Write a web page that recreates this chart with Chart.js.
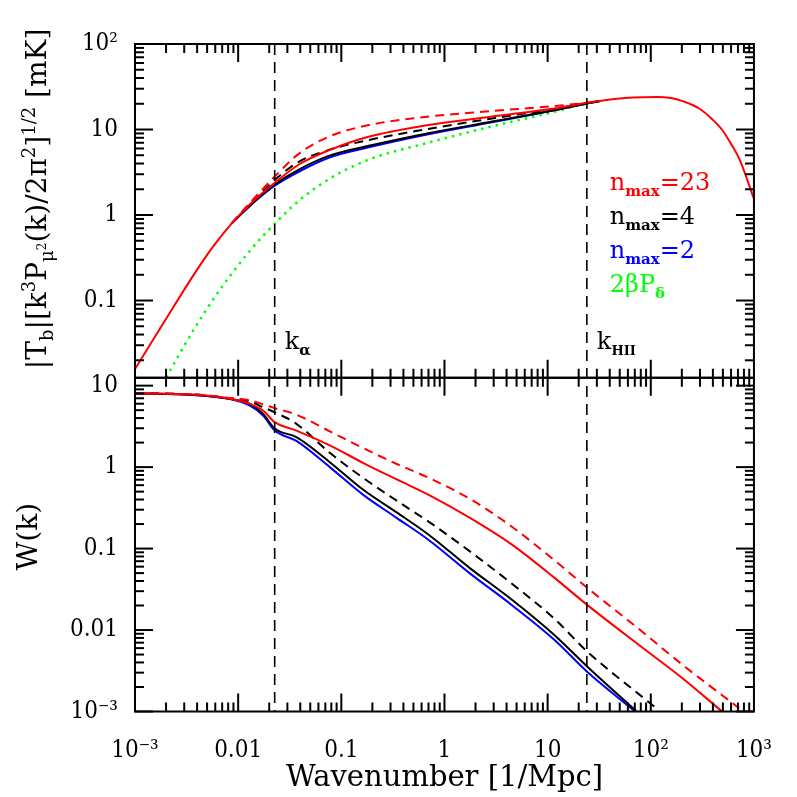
<!DOCTYPE html>
<html>
<head>
<meta charset="utf-8">
<script src="https://cdn.jsdelivr.net/npm/chart.js@4/dist/chart.umd.min.js"></script>
<style>
  html, body { margin: 0; padding: 0; background: #fff; }
  canvas { display: block; }
</style>
</head>
<body>
<canvas id="chart" width="797" height="797"></canvas>
<script>
// ---- data (k in 1/Mpc) ----
// top panel: |Tb| [k^3 P(k)/2pi^2]^1/2 [mK]
const kTopRed = [0.001, 0.0019, 0.00406, 0.0059, 0.00867, 0.0115, 0.0153, 0.0228, 0.0395, 0.0767, 0.18, 0.678, 2.81, 11.6, 24, 31.7, 66.7, 115, 157, 203, 295, 396, 495, 597, 724, 1000];
const topRed   = [0.0158, 0.0553, 0.236, 0.45, 0.8, 1.15, 1.6, 2.4, 3.95, 5.75, 8.17, 11.2, 14.1, 17.6, 20.5, 21.6, 23.6, 24.0, 23.3, 21.5, 17.6, 13.1, 9.8, 6.85, 4.5, 1.55];

const kTopVar = [0.00867, 0.0115, 0.0153, 0.0228, 0.0395, 0.0767, 0.18, 0.678, 2.81, 11.6, 24, 31.7];
const topRedDash   = [0.8, 1.18, 1.72, 2.85, 5.3, 8.3, 11.2, 14.1, 16.4, 18.8, 20.6, 21.6];
const topBlack     = [0.8, 1.12, 1.55, 2.3, 3.45, 4.95, 6.4, 9.0, 12.3, 16.8, 20.2, 21.4];
const topBlackDash = [0.8, 1.15, 1.62, 2.6, 4.25, 5.8, 7.5, 10.1, 13.4, 17.4, 20.4, 21.5];
const topBlue      = [0.8, 1.11, 1.52, 2.22, 3.25, 4.7, 6.15, 8.75, 12.1, 16.8, 20.2, 21.4];

const kGreen   = [0.002, 0.00366, 0.00594, 0.0127, 0.0228, 0.0395, 0.0767, 0.18, 0.678, 2.81, 11.6, 24, 31.7];
const topGreen = [0.0126, 0.0444, 0.11, 0.37, 0.8, 1.5, 2.65, 4.4, 6.95, 10.8, 16.1, 20.2, 21.4];

// bottom panel: W(k)
const kBot = [0.001, 0.0037, 0.0083, 0.013, 0.01745, 0.0226, 0.0367, 0.0773, 0.162, 0.341, 0.718, 1.75, 4.51, 11.6, 24];
const botRed       = [8.05, 7.76, 6.9, 5.97, 4.94, 3.56, 2.81, 1.85, 1.13, 0.71, 0.45, 0.24, 0.112, 0.044, 0.0205];
const botRedDash   = [8.05, 7.8, 7.06, 6.6, 5.9, 5.3, 4.4, 2.75, 1.72, 1.1, 0.73, 0.41, 0.185, 0.072, 0.0333];
const botBlack     = [8.05, 7.7, 6.9, 5.97, 4.5, 2.98, 2.33, 1.15, 0.53, 0.28, 0.145, 0.058, 0.0235, 0.0087, 0.0036];
const botBlackDash = [8.05, 7.8, 7.0, 6.42, 5.42, 4.71, 3.4, 1.5, 0.74, 0.39, 0.21, 0.093, 0.037, 0.0138, 0.0055];
const botBlue      = [8.05, 7.7, 6.85, 5.69, 4.3, 2.81, 2.1, 1.0, 0.46, 0.24, 0.125, 0.05, 0.0202, 0.0076, 0.0031];
// high-k tails
const kRedTail = [77.4, 200, 491],  redTail = [0.0065, 0.0026, 0.001];
const kRedDashTail = [77.4, 200, 718], redDashTail = [0.0102, 0.0038, 0.0011];
const kBlackTail = [73], blackTail = [0.001];
const kBlackDashTail = [108], blackDashTail = [0.00115];
const kBlueTail = [70.5], blueTail = [0.001];

// characteristic scales
const K_ALPHA = 0.0226;
const K_HII = 24;

// axes
const X_TICKS = [1e-3, 1e-2, 0.1, 1, 10, 100, 1000];
const X_LABELS = ['10⁻³', '0.01', '0.1', '1', '10', '10²', '10³'];
const YTOP_TICKS = [0.1, 1, 10, 100];
const YTOP_LABELS = ['0.1', '1', '10', '10²'];
const YBOT_TICKS = [1e-3, 0.01, 0.1, 1, 10];
const YBOT_LABELS = ['10⁻³', '0.01', '0.1', '1', '10'];

const RED = '#ff0000', BLACK = '#000000', BLUE = '#0000ff', GREEN = '#00ff00';
const FONT = "'DejaVu Serif', serif";
const TICK_FONT = "'DejaVu Serif Condensed', 'DejaVu Serif', serif";

function series(ks, vs) {
    return ks.map((k, i) => ({x: k, y: vs[i]}));
}

function line(data, axis, color, extra) {
    return Object.assign({
        data: data,
        yAxisID: axis,
        borderColor: color,
        borderWidth: 2,
        pointRadius: 0,
        fill: false,
        cubicInterpolationMode: 'monotone'
    }, extra || {});
}

const DASH = [9, 6];

// first dataset is drawn on top
const datasets = [
    line(series(kTopRed, topRed), 'yTop', RED),
    line(series(kTopVar, topRedDash), 'yTop', RED, {borderDash: DASH}),
    line(series(kTopVar, topBlack), 'yTop', BLACK),
    line(series(kTopVar, topBlackDash), 'yTop', BLACK, {borderDash: DASH}),
    line(series(kTopVar, topBlue), 'yTop', BLUE),
    line(series(kGreen, topGreen), 'yTop', GREEN, {borderDash: [2.5, 5], borderWidth: 2.5}),

    line(series(kBot.concat(kRedTail), botRed.concat(redTail)), 'yBot', RED),
    line(series(kBot.concat(kRedDashTail), botRedDash.concat(redDashTail)), 'yBot', RED, {borderDash: DASH}),
    line(series(kBot.concat(kBlackTail), botBlack.concat(blackTail)), 'yBot', BLACK),
    line(series(kBot.concat(kBlackDashTail), botBlackDash.concat(blackDashTail)), 'yBot', BLACK, {borderDash: DASH}),
    line(series(kBot.concat(kBlueTail), botBlue.concat(blueTail)), 'yBot', BLUE)
];

// text with sub/superscripts: [text, size, baseline shift, weight]
function richWidth(ctx, parts) {
    let w = 0;
    parts.forEach(p => {
        ctx.font = (p[3] || 'normal') + ' ' + p[1] + 'px ' + FONT;
        w += ctx.measureText(p[0]).width;
    });
    return w;
}

function drawRich(ctx, parts, x, y, align) {
    let cx = align === 'center' ? x - richWidth(ctx, parts) / 2 : x;
    ctx.textAlign = 'left';
    ctx.textBaseline = 'alphabetic';
    parts.forEach(p => {
        ctx.font = (p[3] || 'normal') + ' ' + p[1] + 'px ' + FONT;
        ctx.fillText(p[0], cx, y + p[2]);
        cx += ctx.measureText(p[0]).width;
    });
}

const TOP_TITLE = [['|T', 28, 0], ['b', 18, 7], ['|[k', 28, 0], ['3', 18, -11], ['P', 28, 0], ['μ', 18, 7], ['2', 12, 0],
    ['(k)/2π', 28, 0], ['2', 18, -11], [']', 28, 0], ['1/2', 18, -11], [' [mK]', 28, 0]];
const BOT_TITLE = [['W(k)', 28, 0]];
const X_TITLE = [['Wavenumber [1/Mpc]', 29, 0]];

const LEGEND = [
    {color: RED, parts: [['n', 24, 0], ['max', 15, 6, 'bold'], ['=23', 24, 0]]},
    {color: BLACK, parts: [['n', 24, 0], ['max', 15, 6, 'bold'], ['=4', 24, 0]]},
    {color: BLUE, parts: [['n', 24, 0], ['max', 15, 6, 'bold'], ['=2', 24, 0]]},
    {color: GREEN, parts: [['2βP', 24, 0], ['δ', 15, 6, 'bold']]}
];
const LEGEND_K = 40;      // left edge of the legend, in k
const LEGEND_V = 1.95;    // baseline of first entry, in top-panel units
const LEGEND_STEP = 34;

const MAJOR = 18, MINOR = 9;

const framePlugin = {
    id: 'frame',
    beforeDatasetDraw(chart, args) {
        const ds = chart.data.datasets[args.index];
        const ys = chart.scales[ds.yAxisID];
        const xs = chart.scales.x;
        chart.ctx.save();
        chart.ctx.beginPath();
        chart.ctx.rect(xs.left, ys.top, xs.right - xs.left, ys.bottom - ys.top);
        chart.ctx.clip();
    },
    afterDatasetDraw(chart) {
        chart.ctx.restore();
    },
    afterDatasetsDraw(chart) {
        const ctx = chart.ctx;
        const xs = chart.scales.x;
        const area = chart.chartArea;
        ctx.save();
        ctx.strokeStyle = '#000';

        // characteristic k lines across both panels
        ctx.lineWidth = 1.6;
        ctx.setLineDash([11, 7]);
        [K_ALPHA, K_HII].forEach(k => {
            const px = xs.getPixelForValue(k);
            ctx.beginPath();
            ctx.moveTo(px, area.top);
            ctx.lineTo(px, area.bottom);
            ctx.stroke();
        });
        ctx.setLineDash([]);

        ctx.lineWidth = 2;
        const seg = (x1, y1, x2, y2) => {
            ctx.beginPath();
            ctx.moveTo(x1, y1);
            ctx.lineTo(x2, y2);
            ctx.stroke();
        };
        [chart.scales.yTop, chart.scales.yBot].forEach(ys => {
            ctx.strokeRect(xs.left, ys.top, xs.right - xs.left, ys.bottom - ys.top);
            for (let e = -3; e < 3; e++) {
                for (let m = 1; m < 10; m++) {
                    const px = xs.getPixelForValue(m * Math.pow(10, e));
                    const len = m === 1 ? MAJOR : MINOR;
                    seg(px, ys.bottom, px, ys.bottom - len);
                    seg(px, ys.top, px, ys.top + len);
                }
            }
            const lo = Math.floor(Math.log10(ys.min)), hi = Math.ceil(Math.log10(ys.max));
            for (let e = lo; e <= hi; e++) {
                for (let m = 1; m < 10; m++) {
                    const v = m * Math.pow(10, e);
                    if (v < ys.min * 0.999 || v > ys.max * 1.001) continue;
                    const py = ys.getPixelForValue(v);
                    const len = m === 1 ? MAJOR : MINOR;
                    seg(xs.left, py, xs.left + len, py);
                    seg(xs.right, py, xs.right - len, py);
                }
            }
        });
        ctx.restore();
    },
    afterDraw(chart) {
        const ctx = chart.ctx;
        const xs = chart.scales.x;
        const yt = chart.scales.yTop;
        const yb = chart.scales.yBot;
        ctx.save();
        ctx.fillStyle = '#000';

        // axis titles
        ctx.save();
        ctx.translate(46, (yt.top + yt.bottom) / 2 - 12);
        ctx.rotate(-Math.PI / 2);
        drawRich(ctx, TOP_TITLE, 0, 0, 'center');
        ctx.restore();

        ctx.save();
        ctx.translate(37, (yb.top + yb.bottom) / 2 - 8);
        ctx.rotate(-Math.PI / 2);
        drawRich(ctx, BOT_TITLE, 0, 0, 'center');
        ctx.restore();

        drawRich(ctx, X_TITLE, (xs.left + xs.right) / 2, xs.bottom - 11, 'center');

        // k labels
        drawRich(ctx, [['k', 24, 0], ['α', 15, 6, 'bold']], xs.getPixelForValue(K_ALPHA) + 10, yt.bottom - 29, 'left');
        drawRich(ctx, [['k', 24, 0], ['HII', 13, 6, 'bold']], xs.getPixelForValue(K_HII) + 10, yt.bottom - 29, 'left');

        // legend
        const lx = xs.getPixelForValue(LEGEND_K);
        const ly = yt.getPixelForValue(LEGEND_V);
        LEGEND.forEach((item, i) => {
            ctx.fillStyle = item.color;
            drawRich(ctx, item.parts, lx, ly + i * LEGEND_STEP, 'left');
        });
        ctx.restore();
    }
};

function fixedTicks(values) {
    return function (scale) {
        scale.ticks = values.map(v => ({value: v}));
    };
}

new Chart(document.getElementById('chart'), {
    type: 'line',
    data: {datasets: datasets},
    options: {
        responsive: false,
        animation: false,
        devicePixelRatio: 1,
        layout: {padding: {top: 44, right: 42, bottom: 0, left: 0}},
        plugins: {legend: {display: false}, tooltip: {enabled: false}},
        scales: {
            x: {
                type: 'logarithmic',
                position: 'bottom',
                min: 1e-3,
                max: 1e3,
                grid: {display: false, drawTicks: false},
                border: {display: false},
                afterBuildTicks: fixedTicks(X_TICKS),
                afterFit: s => { s.height = 85.5; },
                ticks: {
                    autoSkip: false,
                    maxRotation: 0,
                    padding: 25,
                    color: '#000',
                    font: {family: TICK_FONT, size: 24},
                    callback: (v, i) => X_LABELS[i]
                }
            },
            yTop: {
                type: 'logarithmic',
                position: 'left',
                stack: 'panels',
                stackWeight: 1,
                weight: 1,
                min: 0.0125,
                max: 100,
                grid: {display: false, drawTicks: false},
                border: {display: false},
                afterBuildTicks: fixedTicks(YTOP_TICKS),
                afterFit: s => { s.width = 135; },
                ticks: {
                    autoSkip: false,
                    padding: 17,
                    color: '#000',
                    font: {family: TICK_FONT, size: 24},
                    callback: (v, i) => YTOP_LABELS[i]
                }
            },
            yBot: {
                type: 'logarithmic',
                position: 'left',
                stack: 'panels',
                stackWeight: 1,
                weight: 0,
                min: 1e-3,
                max: 12.5,
                grid: {display: false, drawTicks: false},
                border: {display: false},
                afterBuildTicks: fixedTicks(YBOT_TICKS),
                afterFit: s => { s.width = 135; },
                ticks: {
                    autoSkip: false,
                    padding: 17,
                    color: '#000',
                    font: {family: TICK_FONT, size: 24},
                    callback: (v, i) => YBOT_LABELS[i]
                }
            }
        }
    },
    plugins: [framePlugin]
});
</script>
</body>
</html>
